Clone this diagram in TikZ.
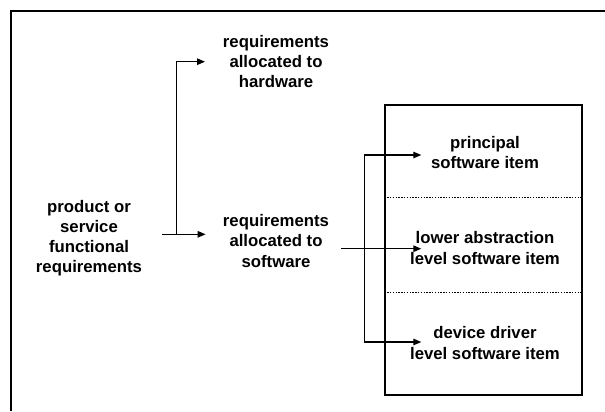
\documentclass[tikz,border=0pt]{standalone}
\usepackage{fontspec}
\setmainfont{Liberation Sans}
\usetikzlibrary{arrows.meta}
\begin{document}
\begin{tikzpicture}[x=1bp,y=-1bp,
  txt/.style={font=\bfseries\fontsize{16.8}{20.3}\selectfont, align=center, inner sep=0pt},
  conn/.style={line width=1.3bp},
  arr/.style={conn,-{Triangle[length=8bp,width=6.5bp]}},
  sep/.style={line width=1bp, dash pattern=on 1.4bp off 1.4bp}]
\useasboundingbox (0,0) rectangle (605,411);

% outer frame (open to the right and bottom)
\coordinate (frameR) at (605,10.7);
\coordinate (frameTL) at (10.8,10.7);
\coordinate (frameB) at (10.8,411);
\draw[line width=1.7bp] (frameR) -- (frameTL) -- (frameB);

% texts
\node[txt] (prod) at (89,238) {product or\\service\\functional\\requirements};
\node[txt] (hw) at (276,61.5) {requirements\\allocated to\\hardware};
\node[txt] (sw) at (276,241) {requirements\\allocated to\\software};

% software item stack
\node[draw, line width=1.4bp, minimum width=197bp, minimum height=290bp, inner sep=0pt] (stack) at (483.5,250) {};
\node[txt] (top) at (485,152.5) {principal\\software item};
\node[txt] (mid) at (485,248) {lower abstraction\\level software item};
\node[txt] (low) at (485,343) {device driver\\level software item};

\coordinate (d1) at (385,197.7);
\coordinate (d2) at (385,292.3);
\draw[sep] (stack.west |- d1) -- (stack.east |- d1);
\draw[sep] (stack.west |- d2) -- (stack.east |- d2);

% allocation of the functional requirements
\coordinate (pout) at (162,234.3);
\coordinate (fork) at (176.7,234.3);
\coordinate (hwin) at (205,61.7);
\coordinate (swin) at (205.6,234.3);
\draw[arr] (pout) -- (swin);
\draw[arr] (fork) |- (hwin);

% software requirements to the software items
\coordinate (swout) at (341.4,248.7);
\coordinate (midin) at (421.3,248.7);
\draw[arr] (swout) -- (midin);

\coordinate (bustop) at (364.2,155);
\coordinate (busbot) at (364.2,342);
\coordinate (topin) at (421.3,155);
\coordinate (lowin) at (421.3,342);
\draw[arr] (busbot) -- (bustop) -- (topin);
\draw[arr] (busbot) -- (lowin);
\end{tikzpicture}
\end{document}
